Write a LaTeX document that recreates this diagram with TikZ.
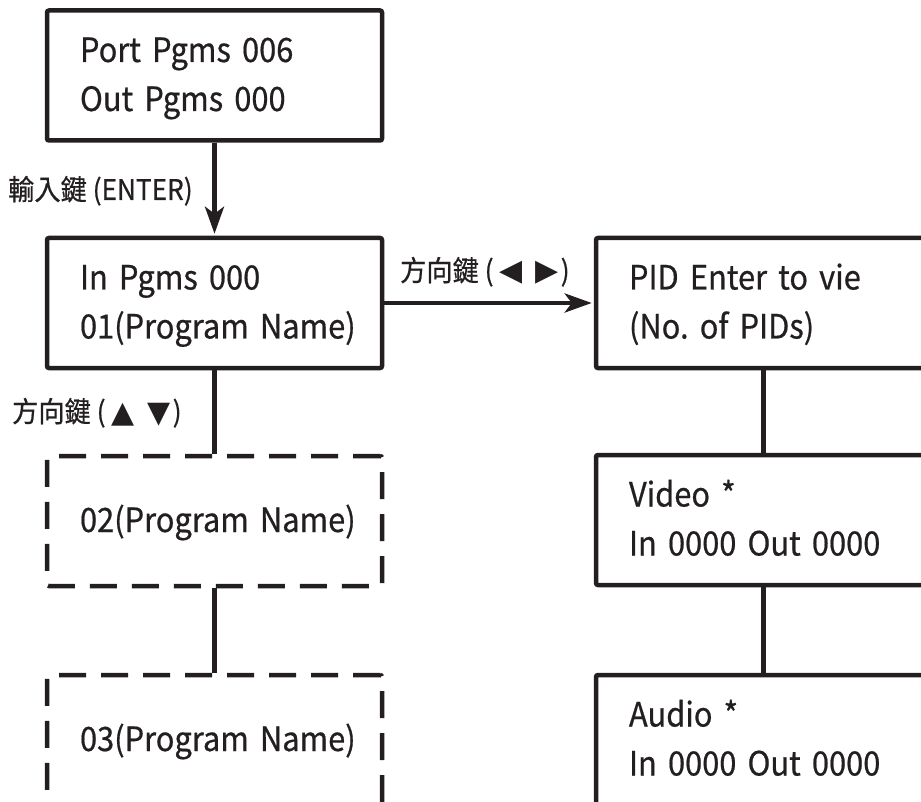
\documentclass[tikz,border=0pt]{standalone}
\usepackage{fontspec}
\setmainfont{Noto Sans CJK TC}[FakeStretch=0.92,FakeBold=0.6]
\newfontfamily\symfont{DejaVu Sans}
\usetikzlibrary{arrows.meta}
\definecolor{ink}{RGB}{35,31,32}
\newcommand{\tri}[1]{{\symfont\fontsize{30}{30}\selectfont #1}}
\newcommand{\tripair}[2]{(\hspace{6pt}\tri{#1}\hspace{13pt}\tri{#2}\hspace{2pt})}
\frenchspacing
\begin{document}
\begin{tikzpicture}[x=1pt,y=-1pt,
  box/.style={draw=ink, text=ink, line width=4.5pt, rounded corners=2pt,
    minimum width=335pt, minimum height=130pt, text width=269pt,
    inner xsep=33pt, inner ysep=0pt, align=left,
    font=\fontsize{33.5}{49}\selectfont, text height=22pt, text depth=49pt},
  onebox/.style={box, text depth=0pt},
  dbox/.style={onebox, dash pattern=on 27pt off 15pt},
  conn/.style={draw=ink, line width=4.5pt},
  arr/.style={conn, shorten >=2pt, -{Stealth[length=27pt,width=19pt,inset=7pt]}},
  lbl/.style={text=ink, font=\fontsize{28.5}{30}\selectfont, inner sep=0pt, anchor=base west}]
\useasboundingbox (0,0) rectangle (921,802);
\clip (0,0) rectangle (921,802);
% left column
\node[box]  (top)   at (214.5,75.5) {\mbox{Port Pgms 006}\\\mbox{Out Pgms 000}};
\node[box]  (in)    at (214.5,303)  {\mbox{In Pgms 000}\\\mbox{01(Program Name)}};
\node[dbox] (p2)    at (214.5,521)  {\mbox{02(Program Name)}};
\node[dbox] (p3)    at (214.5,740)  {\mbox{03(Program Name)}};
% right column
\node[box]  (pid)   at (763.5,303)  {\mbox{PID Enter to vie}\\\mbox{(No. of PIDs)}};
\node[box]  (video) at (763.5,520)  {\mbox{Video *}\\\mbox{In 0000 Out 0000}};
\node[box]  (audio) at (763.5,740)  {\mbox{Audio *}\\\mbox{In 0000 Out 0000}};
% connectors
\draw[arr]  (top) -- (in);
\draw[arr]  (in) -- (pid);
\draw[conn] (in) -- (p2);
\draw[conn] (p2) -- (p3);
\draw[conn] (pid) -- (video);
\draw[conn] (video) -- (audio);
% labels
\node[lbl] (lenter) at (8,200)   {輸入鍵 (ENTER)};
\node[lbl] (llr)    at (400,281) {方向鍵 \tripair{◀}{▶}};
\node[lbl] (lud)    at (12,422)  {方向鍵 \tripair{▲}{▼}};
\end{tikzpicture}
\end{document}
